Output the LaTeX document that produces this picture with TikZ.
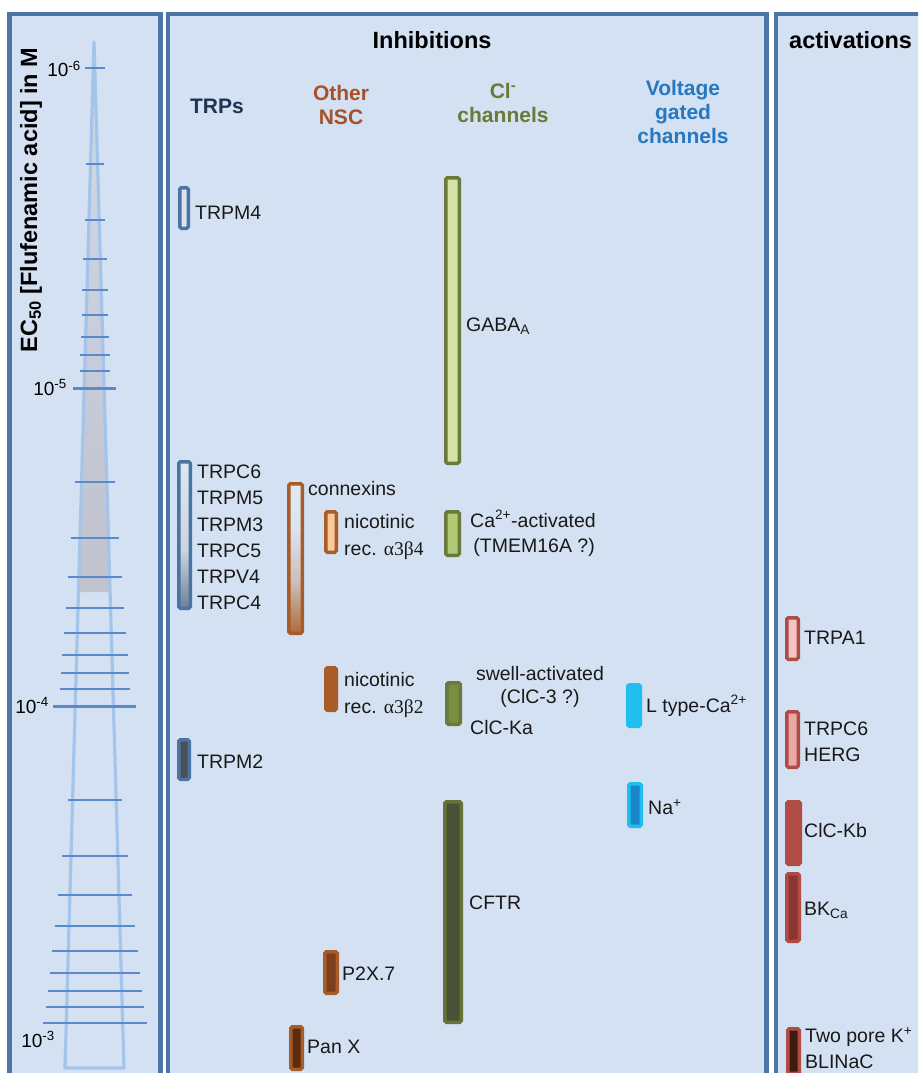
\documentclass[tikz,border=0pt]{standalone}
\usepackage{fontspec}
\setmainfont{Liberation Sans}
\newfontfamily\greekserif{Liberation Serif}
\usepackage{tikz}

% Colours picked from the figure
\definecolor{panelfill}{RGB}{211,225,242}
\definecolor{panelframe}{RGB}{75,117,163}
\definecolor{tickblue}{RGB}{88,138,204}
\definecolor{coneline}{RGB}{164,196,234}
\definecolor{conetop}{RGB}{210,218,233}
\definecolor{conebottom}{RGB}{192,194,205}
\definecolor{trpsnavy}{RGB}{30,52,82}
\definecolor{nscbrown}{RGB}{166,82,40}
\definecolor{clgreen}{RGB}{103,122,56}
\definecolor{vgblue}{RGB}{38,121,193}
\definecolor{trpframe}{RGB}{74,116,164}
\definecolor{trplight}{RGB}{218,228,240}
\definecolor{trpdark}{RGB}{28,50,82}
\definecolor{trpgray}{RGB}{75,79,85}
\definecolor{brown}{RGB}{169,92,39}
\definecolor{connexgray}{RGB}{203,190,186}
\definecolor{connextop}{RGB}{236,241,248}
\definecolor{peach}{RGB}{249,201,154}
\definecolor{brownmid}{RGB}{123,63,30}
\definecolor{browndark}{RGB}{90,44,16}
\definecolor{olive}{RGB}{105,122,59}
\definecolor{olivelight}{RGB}{213,227,166}
\definecolor{olivemid}{RGB}{178,202,116}
\definecolor{oliveswell}{RGB}{122,142,64}
\definecolor{olivedark}{RGB}{74,81,54}
\definecolor{cyanbar}{RGB}{30,190,240}
\definecolor{nablue}{RGB}{26,134,202}
\definecolor{actred}{RGB}{176,75,69}
\definecolor{actpink}{RGB}{241,198,195}
\definecolor{actrose}{RGB}{233,169,165}
\definecolor{actdark}{RGB}{138,53,48}
\definecolor{actblack}{RGB}{62,27,15}

% Bar shadings, bottom (0bp) to top (100bp)
\pgfdeclareverticalshading{connexshade}{100bp}{color(0bp)=(brown); color(22bp)=(brown); color(42bp)=(connexgray); color(60bp)=(trplight); color(100bp)=(connextop)}
\pgfdeclareverticalshading{trpshade}{100bp}{color(0bp)=(trpdark); color(15bp)=(trpdark!80!trplight); color(45bp)=(trplight!85!gray); color(70bp)=(trplight); color(100bp)=(white)}

\tikzset{
    panel/.style={draw=panelframe, line width=4.5pt, fill=panelfill},
    bar/.style={line width=3.5pt, rounded corners=1.5pt},
    lbl/.style={anchor=west, inner sep=0pt, align=left, text=black!90,
        font=\fontsize{19.5}{25.5}\selectfont},
    hdr/.style={align=center, inner sep=0pt, font=\bfseries\fontsize{21}{24}\selectfont},
    title/.style={inner sep=0pt, font=\bfseries\fontsize{23.5}{24}\selectfont},
    scalelbl/.style={anchor=base east, inner sep=0pt, font=\fontsize{19}{19}\selectfont},
    minortick/.style={draw=tickblue, line width=2pt},
    majortick/.style={draw=tickblue, line width=3pt},
}

\begin{document}
\begin{tikzpicture}[x=1pt,y=-1pt]
    % Page size of the original figure (pixels = pt here)
    \useasboundingbox (0,0) rectangle (918,1073);
    \clip (0,0) rectangle (918,1073);
    \fill [white] (0,0) rectangle (918,1073);

    % Panels:
    % They run past the lower edge, so only three borders are seen
    \draw [panel] (9.5,14) rectangle (160.5,1090);
    \draw [panel] (168,14) rectangle (766.5,1090);
    \draw [panel] (776,14) rectangle (940,1090);

    % Concentration scale:
    % a thin cone with a gray shaded tip and log ticks across it
    \shade [top color=conetop, bottom color=conebottom] (94,42) -- (78.5,592) -- (109.6,592) -- cycle;
    \draw [coneline, line width=3.2pt, line join=round] (94,42) -- (65,1068) -- (124,1068) -- cycle;
    % rounded to whole pixels so that every tick comes out equally sharp
    \foreach \d/\a/\b in {0/5.4/10.4, 1/13.1/23, 2/17.8/32.2}{%
        \foreach \m in {2,...,9}{%
            \pgfmathsetmacro{\yy}{round(68+318*(\d+log10(\m)))}
            \pgfmathsetmacro{\hw}{\a+\b*log10(\m)}
            \draw [minortick] (95-\hw,\yy) -- (95+\hw,\yy);
        }
    }
    \draw [majortick, line width=2pt] (85,68) -- (105,68);
    \draw [majortick] (73,388.5) -- (116,388.5);
    \draw [majortick] (53,706.5) -- (136,706.5);
    \draw [majortick, line width=2pt] (43,1023) -- (147,1023);
    \node [scalelbl] (decsix) at (81,77) {10\textsuperscript{-6}};
    \node [scalelbl] (decfive) at (67,395) {10\textsuperscript{-5}};
    \node [scalelbl] (decfour) at (49,713) {10\textsuperscript{-4}};
    \node [scalelbl] (decthree) at (55,1047) {10\textsuperscript{-3}};
    \node [title, rotate=90] (ectitle) at (31,200) {EC\textsubscript{50} [Flufenamic acid] in M};

    % Headers
    \node [title] (inhib) at (432,40) {Inhibitions};
    \node [title, anchor=west] (activ) at (789,40) {activations};
    \node [hdr, text=trpsnavy] (trps) at (217,106) {TRPs};
    \node [hdr, text=nscbrown] (nsc) at (341,105) {Other\\NSC};
    \node [hdr, text=clgreen] (clch) at (503,103) {Cl\textsuperscript{-}\\channels};
    \node [hdr, text=vgblue] (vgch) at (683,112) {Voltage\\gated\\channels};

    % TRPs
    \draw [bar, draw=trpframe, fill=trplight] (179.75,187.75) rectangle (188.25,228.25);
    \node [lbl] (trpmfour) at (195,213) {TRPM4};
    \draw [bar, draw=trpframe, shading=trpshade] (178.75,461.75) rectangle (190.25,608.25);
    \node [lbl, font=\fontsize{19.5}{26.2}\selectfont] (trpgroup) at (197,537.5) {TRPC6\\TRPM5\\TRPM3\\TRPC5\\TRPV4\\TRPC4};
    \draw [bar, draw=trpframe, fill=trpgray] (178.75,739.75) rectangle (189.25,779.25);
    \node [lbl] (trpmtwo) at (197,762) {TRPM2};

    % Other NSC
    \draw [bar, draw=brown, shading=connexshade] (288.75,483.75) rectangle (302.25,633.25);
    \node [lbl] (connex) at (308,489) {connexins};
    \draw [bar, draw=brown, fill=peach] (325.75,511.75) rectangle (336.25,552.25);
    \node [lbl, font=\fontsize{19.5}{27}\selectfont] (nicfour) at (344,537) {nicotinic\\rec. {\greekserif α3β4}};
    \draw [bar, draw=brown, fill=brown] (325.75,667.75) rectangle (336.25,710.25);
    \node [lbl, font=\fontsize{19.5}{27}\selectfont] (nictwo) at (344,695) {nicotinic\\rec. {\greekserif α3β2}};
    \draw [bar, draw=brown, fill=brownmid] (324.75,951.75) rectangle (337.25,993.25);
    \node [lbl] (ptwox) at (342,974) {P2X.7};
    \draw [bar, draw=brown, fill=browndark] (290.75,1026.75) rectangle (302.25,1069.25);
    \node [lbl] (panx) at (307,1047) {Pan X};

    % Cl- channels
    \draw [bar, draw=olive, fill=olivelight] (445.75,177.75) rectangle (459.25,463.25);
    \node [lbl] (gaba) at (466,326) {GABA\textsubscript{A}};
    \draw [bar, draw=olive, fill=olivemid] (445.75,511.75) rectangle (459.25,555.25);
    \node [lbl, font=\fontsize{19.5}{25}\selectfont] (caact) at (470,533) {Ca\textsuperscript{2+}-activated\\\,(TMEM16A ?)};
    \draw [bar, draw=olive, fill=oliveswell] (446.75,682.75) rectangle (460.25,724.25);
    \node [lbl, anchor=center, align=center, font=\fontsize{19.5}{23.5}\selectfont] (swell) at (540,687) {swell-activated\\(ClC-3 ?)};
    \node [lbl] (clcka) at (470,728) {ClC-Ka};
    \draw [bar, draw=olive!95!black, fill=olivedark] (444.75,801.75) rectangle (461.25,1022.25);
    \node [lbl] (cftr) at (469,903) {CFTR};

    % Voltage gated channels
    \draw [bar, draw=cyanbar, fill=cyanbar] (627.75,684.75) rectangle (640.25,726.25);
    \node [lbl] (ltype) at (646,706) {L type-Ca\textsuperscript{2+}};
    \draw [bar, draw=cyanbar, fill=nablue] (628.75,783.75) rectangle (641.25,826.25);
    \node [lbl] (naplus) at (648,807) {Na\textsuperscript{+}};

    % Activations
    \draw [bar, draw=actred, fill=actpink] (786.75,617.75) rectangle (798.25,659.25);
    \node [lbl] (trpaone) at (804,638) {TRPA1};
    \draw [bar, draw=actred, fill=actrose] (786.75,711.75) rectangle (798.25,767.25);
    \node [lbl] (herg) at (804,742) {TRPC6\\HERG};
    \draw [bar, draw=actred, fill=actred] (786.75,801.75) rectangle (800.25,864.25);
    \node [lbl] (clckb) at (804,831) {ClC-Kb};
    \draw [bar, draw=actred, fill=actdark] (786.75,873.75) rectangle (799.25,941.25);
    \node [lbl] (bkca) at (804,910) {BK\textsubscript{Ca}};
    \draw [bar, draw=actred, fill=actblack] (787.75,1028.75) rectangle (799.25,1073.25);
    \node [lbl] (twopore) at (805,1048) {Two pore K\textsuperscript{+}\\BLINaC};
\end{tikzpicture}
\end{document}
